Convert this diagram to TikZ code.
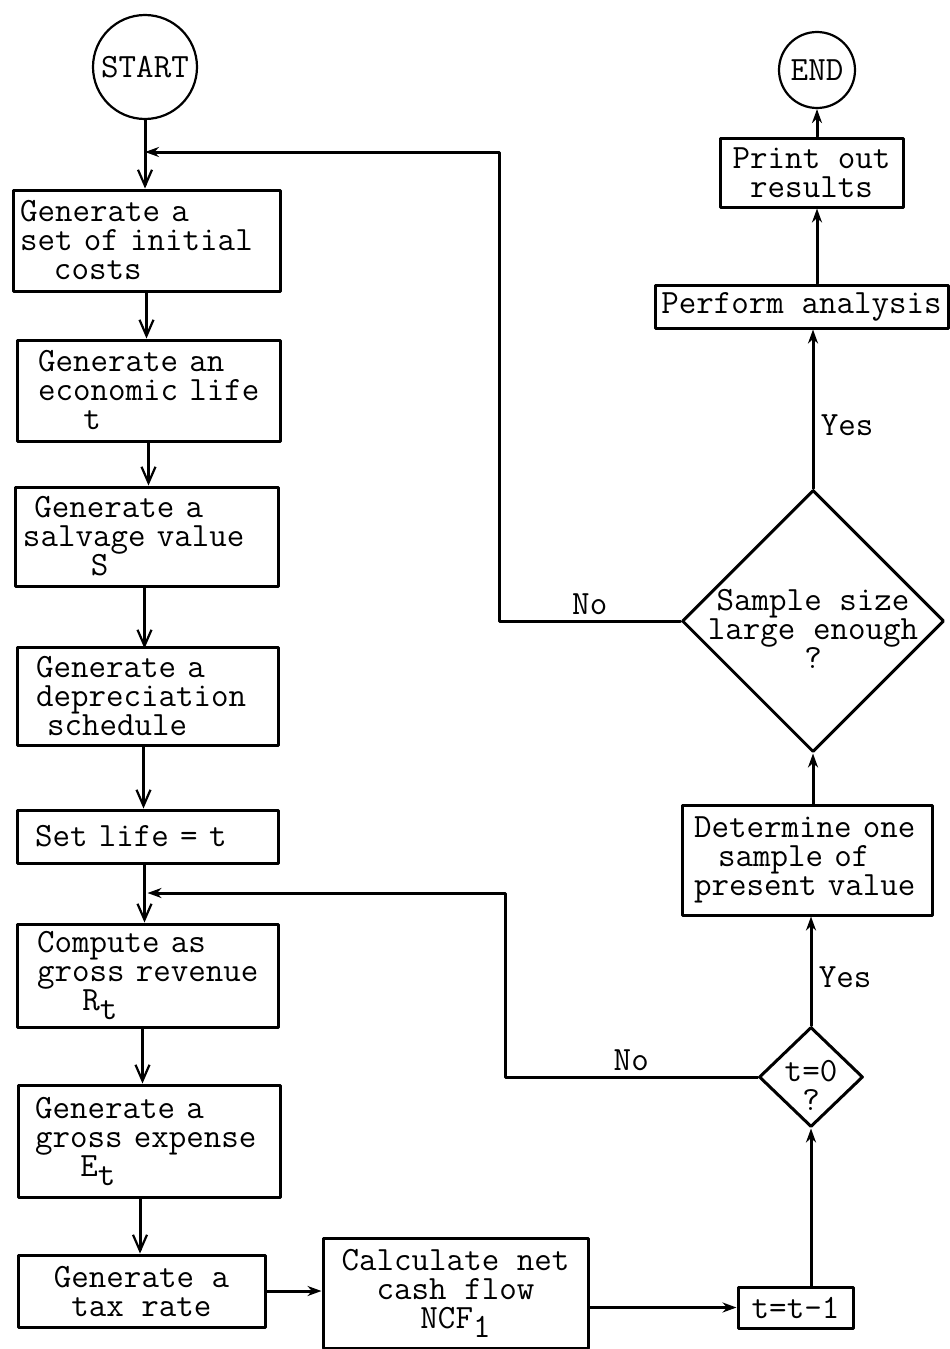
\documentclass[tikz,border=0pt]{standalone}
\usetikzlibrary{shapes.geometric,arrows.meta}
\newcommand{\tsub}[1]{\raisebox{-9pt}{#1}}
\tikzset{
	proc/.style={draw, line width=3pt, inner ysep=0pt, align=left},
	mid/.style={draw, line width=3pt, inner sep=0pt, align=center},
	decide/.style={diamond, draw, line width=3pt, inner sep=0pt},
	term/.style={circle, draw, line width=2.2pt, inner sep=0pt},
	flow/.style={line width=3pt, -{Straight Barb[length=16pt,width=14pt,line width=2.2pt]}},
	feed/.style={line width=3pt, -{Stealth[length=14pt,width=10pt]}}
}
\begin{document}
\begin{tikzpicture}[x=1pt, y=-1pt, font=\fontsize{34}{29}\selectfont\ttfamily, line join=round, line cap=round]
	\useasboundingbox (0,0) rectangle (950,1349);
	% left column
	\node[term, minimum size=104pt] (start) at (145,67) {START};
	\node[proc, text width=253pt, inner xsep=7pt, minimum height=101pt] (init) at (146.5,240.5) {Generate~a\\set~of~initial\\~~~costs};
	\node[proc, text width=221pt, inner xsep=21pt, minimum height=101pt] (life) at (148.5,390.5) {Generate~an\\economic~life\\~~~~t};
	\node[proc, text width=247pt, inner xsep=8pt, minimum height=99pt] (salv) at (146.5,536.5) {~Generate~a\\salvage~value\\~~~~~~S};
	\node[proc, text width=223pt, inner xsep=19pt, minimum height=98pt] (depr) at (147.5,696) {Generate~a\\depreciation\\\hspace*{11pt}schedule};
	\node[proc, text width=225pt, inner xsep=18pt, minimum height=53pt] (setlife) at (147.5,836.5) {Set~life~=~t};
	\node[proc, text width=221pt, inner xsep=20pt, minimum height=103pt] (rev) at (147.5,975.5) {Compute~as\\gross~revenue\\~~~~R\tsub{t}};
	\node[proc, text width=228pt, inner xsep=17pt, minimum height=112pt] (exp) at (149,1141) {Generate~a\\gross~expense\\~~~~E\tsub{t}};
	\node[mid, minimum width=247pt, minimum height=72pt] (tax) at (141.5,1291) {Generate a\\tax rate};
	% bottom row
	\node[mid, minimum width=265pt, minimum height=110pt] (calc) at (455.5,1293) {Calculate net\\cash flow\\NCF\tsub{1}};
	\node[mid, minimum width=115pt, minimum height=41pt] (dec) at (795.5,1307.5) {t=t-1};
	% right column
	\node[decide, minimum width=104pt, minimum height=100pt, label={[align=center, yshift=-8pt]center:t=0\\?}] (zero) at (811,1077) {};
	\node[proc, text width=226pt, inner xsep=12pt, minimum height=110pt] (pv) at (807,860) {Determine~one\\\hspace*{24pt}sample~of\\present~value};
	\node[decide, minimum width=262pt, minimum height=262pt, label={[align=center, yshift=-8pt]center:Sample size\\large enough\\?}] (chk) at (813,621) {};
	\node[mid, minimum width=293pt, minimum height=43pt] (anal) at (801.5,306.5) {Perform analysis};
	\node[mid, minimum width=183pt, minimum height=69pt] (print) at (811.5,172.5) {Print out\\results};
	\node[term, minimum size=76pt] (fin) at (817,70) {END};
	
	\coordinate (j1) at (start.south |- 0,152);
	\coordinate (j2) at (setlife.south |- 0,893);
	\coordinate (c1) at (499,152);
	\coordinate (c2) at (505,893);
	
	\draw[flow] (start.south) -- (start.south |- init.north);
	\draw[flow] (init.south) -- (init.south |- life.north);
	\draw[flow] (life.south) -- (life.south |- salv.north);
	\draw[flow] (salv.south -| depr.south) ++(-3,0) -- ++(0,61);
	\draw[flow] (depr.south) ++(-4,0) -- (setlife.north -| 143.5,0);
	\draw[flow] (setlife.south) ++(-3,0) -- (rev.north -| 144.5,0);
	\draw[flow] (rev.south) ++(-5,0) -- (exp.north -| 142.5,0);
	\draw[flow] (exp.south) ++(-9,0) -- (tax.north -| 140,0);
	\draw[feed] (tax.east) -- (calc.west |- tax.east);
	\draw[feed] (calc.east |- dec.west) -- (dec.west);
	\draw[feed] (dec.north -| zero.south) -- (zero.south);
	\draw[feed] (zero.north) -- (zero.north |- pv.south) node[pos=.44, right=3pt] {Yes};
	\draw[feed] (pv.north -| chk.south) -- (chk.south);
	\draw[feed] (chk.north) -- (chk.north |- anal.south) node[pos=.4, right=3pt] {Yes};
	\draw[feed] (anal.north -| fin.south) -- (print.south -| fin.south);
	\draw[feed] (print.north -| fin.south) -- (fin.south);
	% loops back
	\draw[feed] (chk.west) -| (c1) node[pos=.25, above=1pt] {No} -- (j1);
	\draw[feed] (zero.west) -| (c2) node[pos=.25, above=1pt] {No} -- (j2);
\end{tikzpicture}
\end{document}
